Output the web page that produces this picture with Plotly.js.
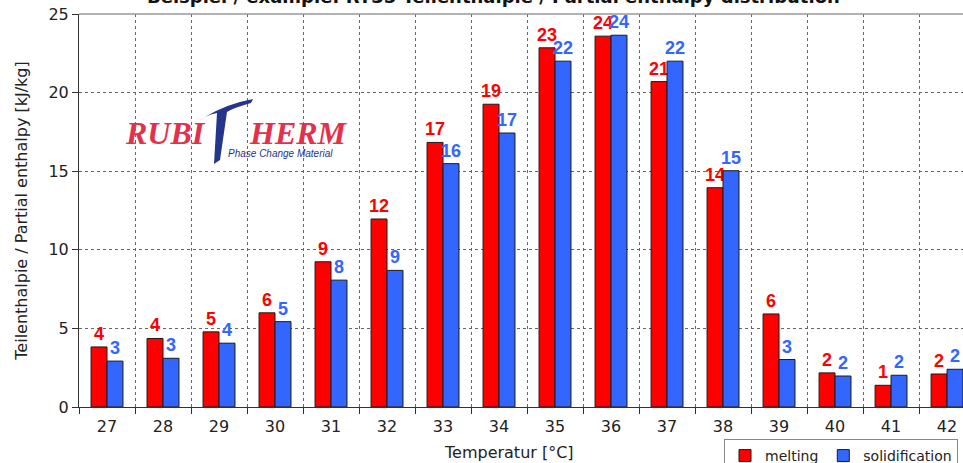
<!DOCTYPE html>
<html>
<head>
<meta charset="utf-8">
<script src="https://cdn.plot.ly/plotly-3.0.1.min.js"></script>
<style>
html,body{margin:0;padding:0;overflow:hidden;background:#fff;}
#chart{width:963px;height:463px;}
</style>
</head>
<body>
<div id="chart"></div>
<script>
// ---- data ----
const temperatures = ["27","28","29","30","31","32","33","34","35","36","37","38","39","40","41","42"];
const melting = [3.82,4.36,4.78,5.99,9.24,11.96,16.83,19.26,22.85,23.59,20.7,13.95,5.92,2.17,1.38,2.1];
const solidification = [2.92,3.1,4.06,5.43,8.07,8.69,15.48,17.43,22.0,23.65,22.0,15.03,3.02,1.97,2.02,2.4];
const meltingLabels = ["4","4","5","6","9","12","17","19","23","24","21","14","6","2","1","2"];
const solidificationLabels = ["3","3","4","5","8","9","16","17","22","24","22","15","3","2","2","2"];
const yTicks = [0,5,10,15,20,25];

// ---- layout helpers (pixel -> paper) ----
const L = 79, T = 14, W = 884, H = 393;
const px = x => (x - L) / W;
const py = y => (T + H - y) / H;

const FONT = "Liberation Sans, Arial, sans-serif";
const AXFONT = "DejaVu Sans, Verdana, sans-serif";
const RED = "#ff0000", BLUE = "#3366ff";

const traces = [
  {
    type: "bar", name: "melting", x: temperatures, y: melting,
    text: meltingLabels, textposition: "outside", cliponaxis: false,
    constraintext: "none",
    textfont: {family: FONT, size: 18, color: RED, weight: "bold"},
    marker: {color: RED, line: {color: "#1a1a1a", width: 1}},
    hoverinfo: "skip"
  },
  {
    type: "bar", name: "solidification", x: temperatures, y: solidification,
    text: solidificationLabels, textposition: "outside", cliponaxis: false,
    constraintext: "none",
    textfont: {family: FONT, size: 18, color: BLUE, weight: "bold"},
    marker: {color: BLUE, line: {color: "#1a1a1a", width: 1}},
    hoverinfo: "skip"
  }
];

function tPath() {
  const pts = [
    ["M",205,117],["Q",226,104,253,99],["L",251,103],["Q",233,108,227,112],
    ["L",220,160],["L",214,164],["L",217,113],["Q",211,114,205,117]
  ];
  let s = "";
  for (const p of pts) {
    s += p[0];
    for (let i = 1; i < p.length; i += 2) {
      s += px(p[i]).toFixed(5) + "," + py(p[i+1]).toFixed(5) + " ";
    }
  }
  return s + "Z";
}

const layout = {
  width: 963, height: 463,
  margin: {l: L, r: 0, t: T, b: 463 - T - H, pad: 0, autoexpand: false},
  paper_bgcolor: "#fff", plot_bgcolor: "#fff",
  font: {family: AXFONT, size: 16, color: "#222"},
  barmode: "group", bargap: 0.43, bargroupgap: 0,
  showlegend: true,
  legend: {
    orientation: "h", x: px(724), y: py(439), xanchor: "left", yanchor: "top",
    xref: "paper", yref: "paper",
    bordercolor: "#888", borderwidth: 1, bgcolor: "#fff",
    font: {family: AXFONT, size: 14, color: "#222"}
  },
  xaxis: {
    type: "category", range: [-0.5, 15.285], tickson: "boundaries",
    showgrid: true, gridcolor: "#666", griddash: "dot", gridwidth: 1,
    ticks: "outside", ticklen: 6, tickcolor: "#333",
    showline: true, linecolor: "#333", linewidth: 1,
    tickfont: {family: AXFONT, size: 16, color: "#222"},
    ticklabelstandoff: 5,
    fixedrange: true
  },
  yaxis: {
    range: [0, 25], tickvals: yTicks, ticktext: yTicks.map(String),
    showgrid: true, gridcolor: "#666", griddash: "dot", gridwidth: 1,
    ticks: "outside", ticklen: 6, tickcolor: "#333",
    showline: true, linecolor: "#333", linewidth: 1,
    zeroline: false,
    tickfont: {family: AXFONT, size: 16, color: "#222"},
    title: {text: "Teilenthalpie / Partial enthalpy [kJ/kg]", font: {family: AXFONT, size: 16, color: "#222"}, standoff: 16},
    fixedrange: true
  },
  shapes: [
    {type: "line", xref: "paper", yref: "paper", x0: 0, x1: 1, y0: 1, y1: 1, line: {color: "#999", width: 1.5}},
    {type: "path", xref: "paper", yref: "paper", path: tPath(), fillcolor: "#26358c", line: {width: 0}}
  ],
  annotations: [
    {text: "<b>Beispiel / example: RT35 Teilenthalpie / Partial enthalpy distribution</b>",
     xref: "paper", yref: "paper", x: px(493), y: py(-3), xanchor: "center", yanchor: "middle",
     showarrow: false, font: {family: AXFONT, size: 18, color: "#111"}},
    {text: "Temperatur [°C]", xref: "paper", yref: "paper", x: px(509), y: py(452),
     xanchor: "center", yanchor: "middle", showarrow: false,
     font: {family: AXFONT, size: 16, color: "#222"}},
    {text: "<b><i>RUBI</i></b>", xref: "paper", yref: "paper", x: px(208), y: py(133),
     xanchor: "right", yanchor: "middle", showarrow: false,
     font: {family: "Liberation Serif, Times New Roman, serif", size: 32, color: "#e3304b"}},
    {text: "<b><i>HERM</i></b>", xref: "paper", yref: "paper", x: px(247), y: py(133),
     xanchor: "left", yanchor: "middle", showarrow: false,
     font: {family: "Liberation Serif, Times New Roman, serif", size: 32, color: "#e3304b"}},
    {text: "<i>Phase Change Material</i>", xref: "paper", yref: "paper", x: px(226), y: py(153),
     xanchor: "left", yanchor: "middle", showarrow: false,
     font: {family: FONT, size: 10, color: "#26358c"}}
  ]
};

Plotly.newPlot("chart", traces, layout, {displayModeBar: false, staticPlot: true});
</script>
</body>
</html>
